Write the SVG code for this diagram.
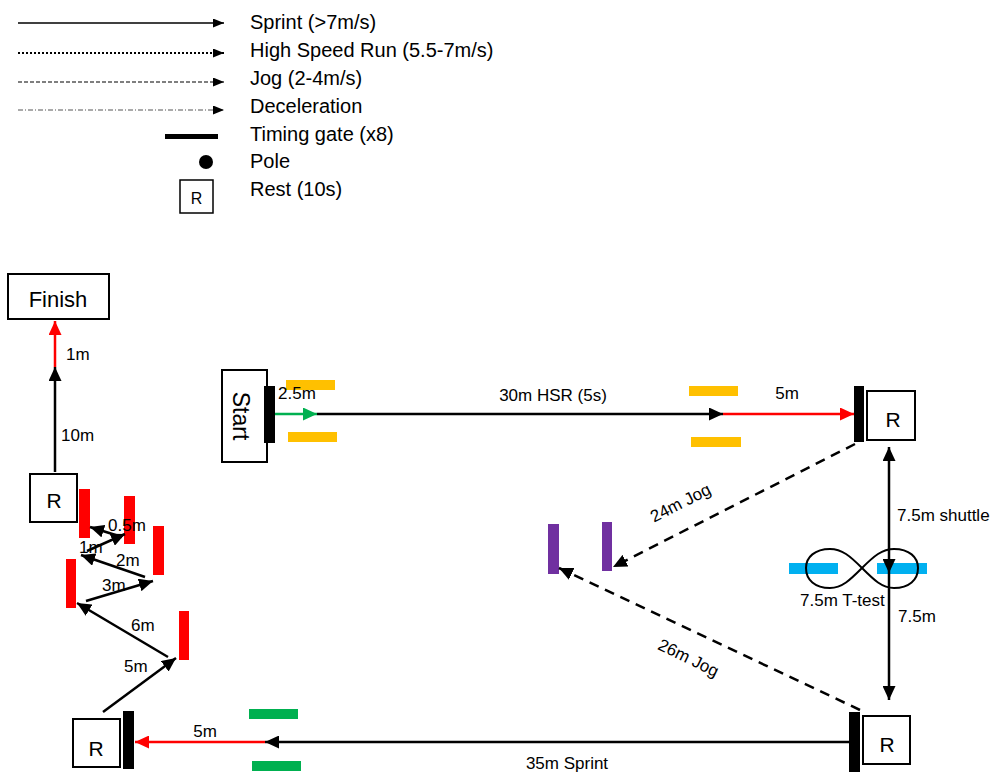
<svg xmlns="http://www.w3.org/2000/svg" width="995" height="774" viewBox="0 0 995 774">
<defs>
<style>
text{font-family:"Liberation Sans",Arial,sans-serif;fill:#000}
.leg{font-size:20px}
.lbl{font-size:17px}
.box{fill:#fff;stroke:#000;stroke-width:2}
.gate{fill:#000}
.ln{stroke:#000;stroke-width:2.5;fill:none}
.red{stroke:#f00;stroke-width:2.5;fill:none}
.grn{stroke:#00b050;stroke-width:2.5;fill:none}
.jog{stroke:#000;stroke-width:2.5;fill:none;stroke-dasharray:10 7}
</style>
<marker id="ab" markerUnits="userSpaceOnUse" markerWidth="15" markerHeight="13" refX="14" refY="6.5" orient="auto-start-reverse"><path d="M0,0 L14,6.5 L0,13 z" fill="#000"/></marker>
<marker id="ar" markerUnits="userSpaceOnUse" markerWidth="15" markerHeight="13" refX="14" refY="6.5" orient="auto"><path d="M0,0 L14,6.5 L0,13 z" fill="#f00"/></marker>
<marker id="ag" markerUnits="userSpaceOnUse" markerWidth="15" markerHeight="13" refX="14" refY="6.5" orient="auto"><path d="M0,0 L14,6.5 L0,13 z" fill="#00b050"/></marker>
<marker id="al" markerUnits="userSpaceOnUse" markerWidth="12" markerHeight="10" refX="11" refY="4.5" orient="auto"><path d="M0,0 L11,4.5 L0,9 z" fill="#000"/></marker>
</defs>

<g id="legend">
<line x1="18" y1="23" x2="224" y2="23" stroke="#000" stroke-width="1.3" marker-end="url(#al)"/>
<line x1="18" y1="53" x2="224" y2="53" stroke="#000" stroke-width="2.2" stroke-dasharray="2 2" marker-end="url(#al)"/>
<line x1="18" y1="82" x2="224" y2="82" stroke="#000" stroke-width="1.1" stroke-dasharray="4 2" marker-end="url(#al)"/>
<line x1="18" y1="110" x2="224" y2="110" stroke="#555" stroke-width="1" stroke-dasharray="5 2 1 2" marker-end="url(#al)"/>
<rect x="165" y="134" width="53" height="5" fill="#000"/>
<circle cx="206" cy="162" r="7" fill="#000"/>
<rect x="180" y="180" width="33" height="33" fill="#fff" stroke="#000" stroke-width="1.5"/>
<text x="196.5" y="204" font-size="16" text-anchor="middle">R</text>
<text class="leg" x="250" y="29">Sprint (&gt;7m/s)</text>
<text class="leg" x="250" y="57">High Speed Run (5.5-7m/s)</text>
<text class="leg" x="250" y="85">Jog (2-4m/s)</text>
<text class="leg" x="250" y="113">Deceleration</text>
<text class="leg" x="250" y="141">Timing gate (x8)</text>
<text class="leg" x="250" y="168">Pole</text>
<text class="leg" x="250" y="196">Rest (10s)</text>
</g>

<g id="finish">
<rect class="box" x="8" y="274" width="101" height="45"/>
<text x="58" y="307" font-size="22" text-anchor="middle">Finish</text>
</g>

<g id="start">
<rect class="box" x="222" y="370" width="45" height="92"/>
<text transform="translate(233,416) rotate(90)" font-size="23" text-anchor="middle">Start</text>
<rect class="gate" x="264" y="386" width="11" height="57"/>
</g>

<g id="rest-left">
<rect class="box" x="30" y="474" width="47" height="48"/>
<text x="54" y="508" font-size="21" text-anchor="middle">R</text>
</g>

<g id="rest-bottom-left">
<rect class="box" x="73" y="719" width="47" height="48"/>
<text x="96" y="756" font-size="21" text-anchor="middle">R</text>
<rect class="gate" x="123" y="711" width="11" height="58"/>
</g>

<g id="rest-top-right">
<rect class="gate" x="854" y="386" width="10" height="56"/>
<rect class="box" x="867" y="391" width="48" height="49"/>
<text x="893" y="427" font-size="21" text-anchor="middle">R</text>
</g>

<g id="rest-bottom-right">
<rect class="gate" x="849" y="712" width="11" height="60"/>
<rect class="box" x="863" y="716" width="47" height="48"/>
<text x="887" y="752" font-size="21" text-anchor="middle">R</text>
</g>

<g id="red-gates" fill="#f00">
<rect x="79" y="489" width="11" height="49"/>
<rect x="124" y="496" width="11" height="48"/>
<rect x="153" y="526" width="11" height="49"/>
<rect x="66" y="559" width="10" height="49"/>
<rect x="179" y="611" width="10" height="49"/>
</g>

<g id="yellow-gates" fill="#ffc000">
<rect x="286" y="380" width="49" height="10"/>
<rect x="288" y="432" width="49" height="10"/>
<rect x="689" y="386" width="49" height="10"/>
<rect x="691" y="437" width="50" height="10"/>
</g>

<g id="green-gates" fill="#00b050">
<rect x="249" y="709" width="49" height="10"/>
<rect x="252" y="761" width="49" height="10"/>
</g>

<g id="purple-gates" fill="#7030a0">
<rect x="548" y="524" width="11" height="50"/>
<rect x="602" y="522" width="10" height="49"/>
</g>

<g id="t-test">
<rect x="789" y="563" width="49" height="11" fill="#00b0f0"/>
<rect x="877" y="563" width="50" height="11" fill="#00b0f0"/>
<path d="M862,568 C850,556 842,549 830,549 C815,549 806,557 806,568 C806,580 815,588 830,588 C842,588 850,580 862,568 C874,556 882,549 894,549 C909,549 918,557 918,568 C918,580 909,588 894,588 C882,588 874,580 862,568 Z" fill="none" stroke="#000" stroke-width="2"/>
</g>

<g id="connectors">
<line class="ln" x1="55" y1="472" x2="55" y2="367" marker-end="url(#ab)"/>
<line class="red" x1="55" y1="367" x2="55" y2="321" marker-end="url(#ar)"/>

<line class="ln" x1="103" y1="712" x2="176" y2="658" marker-end="url(#ab)"/>
<line class="ln" x1="168" y1="657" x2="77" y2="603" marker-end="url(#ab)"/>
<line class="ln" x1="86" y1="601" x2="153" y2="581" marker-end="url(#ab)"/>
<line class="ln" x1="145" y1="577" x2="81" y2="555" marker-end="url(#ab)"/>
<line class="ln" x1="87" y1="551" x2="125" y2="534" marker-end="url(#ab)"/>
<line class="ln" x1="122" y1="537" x2="90" y2="527" marker-end="url(#ab)"/>

<line class="grn" x1="275" y1="414" x2="317" y2="414" marker-end="url(#ag)"/>
<line class="ln" x1="317" y1="414" x2="723" y2="414" marker-end="url(#ab)"/>
<line class="red" x1="723" y1="414" x2="854" y2="414" marker-end="url(#ar)"/>

<line class="ln" stroke-width="2" x1="849" y1="742" x2="265" y2="742" marker-end="url(#ab)"/>
<line class="red" x1="265" y1="742" x2="135" y2="742" marker-end="url(#ar)"/>

<line class="ln" x1="889" y1="447" x2="889" y2="573" marker-start="url(#ab)" marker-end="url(#ab)"/>
<line class="ln" x1="889" y1="573" x2="889" y2="700" marker-end="url(#ab)"/>

<line class="jog" x1="855" y1="444" x2="613" y2="567" marker-end="url(#ab)"/>
<line class="jog" x1="860" y1="710" x2="559" y2="568" marker-end="url(#ab)"/>
</g>

<g id="labels" class="lbl">
<text class="lbl" x="66" y="360">1m</text>
<text class="lbl" x="61" y="441">10m</text>
<text class="lbl" x="108" y="531">0.5m</text>
<text class="lbl" x="79" y="553">1m</text>
<text class="lbl" x="116" y="566">2m</text>
<text class="lbl" x="102" y="591">3m</text>
<text class="lbl" x="131" y="631">6m</text>
<text class="lbl" x="124" y="672">5m</text>
<text class="lbl" x="205" y="737" text-anchor="middle">5m</text>
<text class="lbl" x="567" y="769" text-anchor="middle">35m Sprint</text>
<text class="lbl" x="278" y="399">2.5m</text>
<text class="lbl" x="553" y="401" text-anchor="middle">30m HSR (5s)</text>
<text class="lbl" x="787" y="399" text-anchor="middle">5m</text>
<text class="lbl" x="897" y="521">7.5m shuttle</text>
<text class="lbl" x="800" y="606">7.5m T-test</text>
<text class="lbl" x="898" y="622">7.5m</text>
<text class="lbl" transform="translate(683,508) rotate(-27)" text-anchor="middle">24m Jog</text>
<text class="lbl" transform="translate(686,663) rotate(26)" text-anchor="middle">26m Jog</text>
</g>
</svg>
